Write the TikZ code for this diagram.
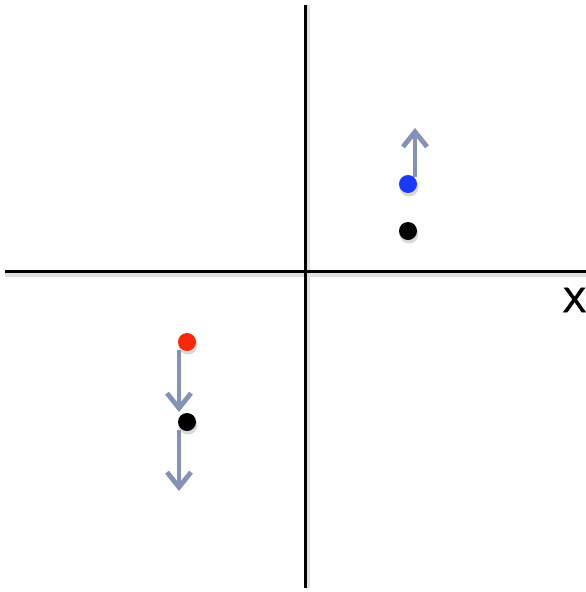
\documentclass[tikz,border=0pt]{standalone}
\usepackage{fontspec}
\setmainfont{Liberation Sans}
\newfontfamily\xfont[FakeBold=2]{Liberation Sans}
\usetikzlibrary{arrows.meta}
\definecolor{arrowc}{HTML}{8592B5}
\definecolor{bluedot}{HTML}{1A3AF5}
\definecolor{reddot}{HTML}{F52A0A}
\tikzset{
  axis/.style={line width=3pt, black},
  axisshadow/.style={line width=4pt, black!12},
  dot/.style={circle, inner sep=0pt, minimum size=18pt},
  dotshadow/.style={circle, inner sep=0pt, minimum size=19pt, fill=black!15},
  vec/.style={line width=4.8pt, arrowc, -{Straight Barb[length=15pt,width=24pt,line width=4.8pt]}},
}
\begin{document}
\begin{tikzpicture}[x=1pt,y=-1pt]
\useasboundingbox[fill=white] (0,0) rectangle (586,592);
% axes
\coordinate (vt) at (305,5);
\coordinate (vb) at (305,588);
\coordinate (hl) at (5,271);
\coordinate (hr) at (586,271);
\draw[axisshadow] (5,275) -- (586,275);
\draw[axisshadow] (308,5) -- (308,588);
\draw[axis] (vt) -- (vb);
\draw[axis] (hl) -- (hr);
\node[font=\xfont\fontsize{35}{35}\selectfont, anchor=base, inner sep=0pt] (xl) at (574.5,312) {X};
% dots
\node[dotshadow] at (409,187) {};
\node[dotshadow] at (409,234) {};
\node[dotshadow] at (188,345) {};
\node[dotshadow] at (188,425) {};
\node[dot, fill=bluedot] (b) at (408,184) {};
\node[dot, fill=black] (k1) at (408,231) {};
\node[dot, fill=reddot] (r) at (187,342) {};
\node[dot, fill=black] (k2) at (187,422) {};
% arrows
\coordinate (bs) at (415,177);
\coordinate (bt) at (415,128);
\coordinate (rs) at (179,350);
\coordinate (rt) at (179,412);
\coordinate (ks) at (179,430);
\coordinate (kt) at (179,491);
\draw[vec] (bs) -- (bt);
\draw[vec] (rs) -- (rt);
\draw[vec] (ks) -- (kt);
\end{tikzpicture}
\end{document}
